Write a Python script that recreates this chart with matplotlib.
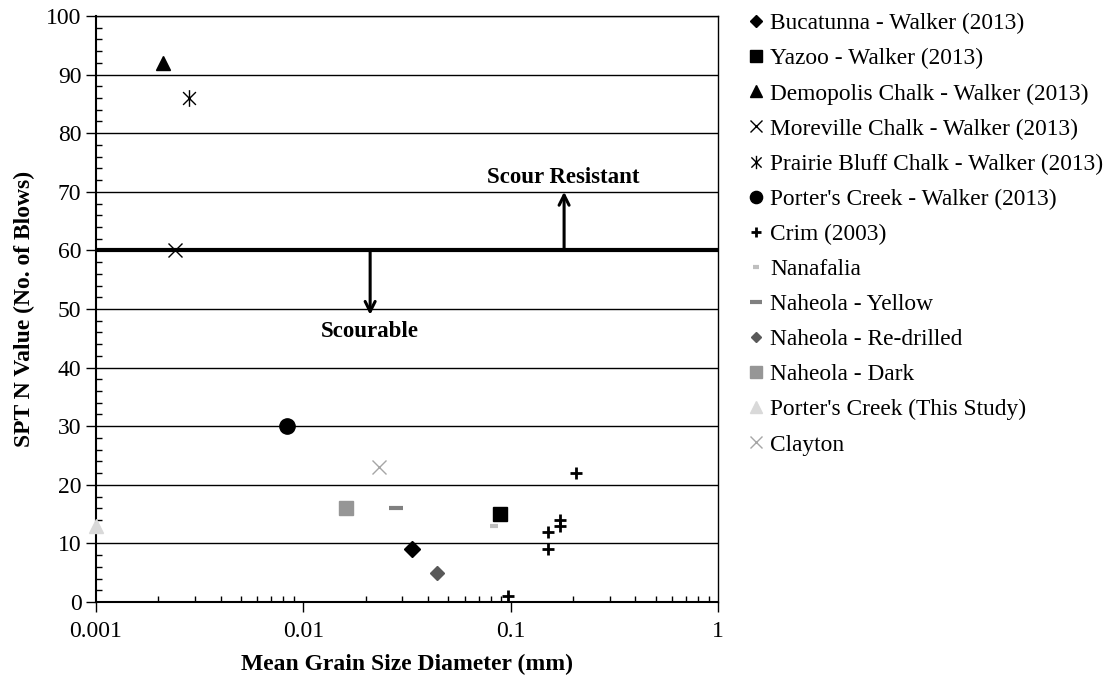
import matplotlib
matplotlib.use("Agg")
import matplotlib.pyplot as plt
from matplotlib.path import Path
from matplotlib.ticker import LogLocator, FixedLocator, NullFormatter, MultipleLocator

plt.rcParams['font.family'] = ['Liberation Serif', 'DejaVu Serif']

# ---- data ----
bucatunna_x = [0.0334]; bucatunna_y = [9]
yazoo_x = [0.0885]; yazoo_y = [15]
demopolis_x = [0.0021]; demopolis_y = [92]
moreville_x = [0.0024]; moreville_y = [60]
prairie_x = [0.0028]; prairie_y = [86]
porters_walker_x = [0.0083]; porters_walker_y = [30]
crim_x = [0.097, 0.151, 0.151, 0.173, 0.173, 0.206]
crim_y = [1, 12, 9, 13, 14, 22]
nanafalia_x = [0.0834]; nanafalia_y = [13]
naheola_yellow_x = [0.028]; naheola_yellow_y = [16]
naheola_redrilled_x = [0.0443]; naheola_redrilled_y = [5]
naheola_dark_x = [0.0161]; naheola_dark_y = [16]
porters_study_x = [0.001]; porters_study_y = [13]
clayton_x = [0.0232]; clayton_y = [23]
threshold = 60

labels = ["Bucatunna - Walker (2013)", "Yazoo - Walker (2013)",
          "Demopolis Chalk - Walker (2013)", "Moreville Chalk - Walker (2013)",
          "Prairie Bluff Chalk - Walker (2013)", "Porter's Creek - Walker (2013)",
          "Crim (2003)", "Nanafalia", "Naheola - Yellow", "Naheola - Re-drilled",
          "Naheola - Dark", "Porter's Creek (This Study)", "Clayton"]

star = Path([(-1, -1), (1, 1), (-1, 1), (1, -1), (0, -1.3), (0, 1.3)],
            [Path.MOVETO, Path.LINETO, Path.MOVETO, Path.LINETO, Path.MOVETO, Path.LINETO])

fig = plt.figure(figsize=(11.06, 6.77), dpi=100)
ax = fig.add_axes([96/1106, 75/677, 622/1106, 586/677])

ax.axhline(threshold, color='black', lw=3, zorder=2)

series = [
    (bucatunna_x, bucatunna_y, dict(marker='D', color='black', ms=8, ls='none')),
    (yazoo_x, yazoo_y, dict(marker='s', color='black', ms=10, ls='none')),
    (demopolis_x, demopolis_y, dict(marker='^', color='black', ms=10, ls='none')),
    (moreville_x, moreville_y, dict(marker='x', color='black', ms=10, mew=1, ls='none')),
    (prairie_x, prairie_y, dict(marker=star, color='black', mfc='none', ms=12, mew=1, ls='none')),
    (porters_walker_x, porters_walker_y, dict(marker='o', color='black', ms=11, ls='none')),
    (crim_x, crim_y, dict(marker='+', color='black', ms=9, mew=2, ls='none')),
    (nanafalia_x, nanafalia_y, dict(marker='_', color='#bfbfbf', ms=6, mew=3, ls='none')),
    (naheola_yellow_x, naheola_yellow_y, dict(marker='_', color='#808080', ms=10, mew=3, ls='none')),
    (naheola_redrilled_x, naheola_redrilled_y, dict(marker='D', color='#595959', ms=7, ls='none')),
    (naheola_dark_x, naheola_dark_y, dict(marker='s', color='#969696', ms=10, ls='none')),
    (porters_study_x, porters_study_y, dict(marker='^', color='#d9d9d9', ms=10, ls='none')),
    (clayton_x, clayton_y, dict(marker='x', color='#a6a6a6', ms=10, mew=1, ls='none')),
]
handles = []
for (xs, ys, kw), lab in zip(series, labels):
    h, = ax.plot(xs, ys, label=lab, zorder=3, clip_on=False, **kw)
    handles.append(h)

ax.set_xscale('log')
ax.set_xlim(0.001, 1)
ax.set_ylim(0, 100)
ax.yaxis.set_major_locator(MultipleLocator(10))
ax.yaxis.set_minor_locator(MultipleLocator(2))
ax.xaxis.set_major_locator(FixedLocator([0.001, 0.01, 0.1, 1]))
ax.xaxis.set_major_formatter(matplotlib.ticker.FuncFormatter(lambda v, p: f"{v:g}"))
ax.xaxis.set_minor_locator(LogLocator(base=10, subs=range(2, 10)))
ax.xaxis.set_minor_formatter(NullFormatter())
ax.grid(axis='y', which='major', color='black', lw=1, zorder=1)
ax.set_axisbelow(True)
ax.tick_params(which='major', direction='out', length=7, width=1, labelsize=17, color='black')
ax.tick_params(which='minor', direction='in', length=4, width=1)
ax.tick_params(axis='x', which='major', pad=7)
for s in ax.spines.values():
    s.set_color('black'); s.set_linewidth(1)
ax.spines['left'].set_linewidth(1.5)
ax.spines['bottom'].set_linewidth(1.5)

ax.set_xlabel("Mean Grain Size Diameter (mm)", fontsize=17, fontweight='bold', labelpad=8)
ax.set_ylabel("SPT N Value (No. of Blows)", fontsize=17, fontweight='bold', labelpad=8)

ax.annotate("", xy=(0.021, 49), xytext=(0.021, threshold),
            arrowprops=dict(arrowstyle='->', lw=2.2, color='black', mutation_scale=18, shrinkA=0, shrinkB=0))
ax.annotate("", xy=(0.181, 70), xytext=(0.181, threshold),
            arrowprops=dict(arrowstyle='->', lw=2.2, color='black', mutation_scale=18, shrinkA=0, shrinkB=0))
ax.text(0.021, 46.2, "Scourable", fontsize=16.5, fontweight='bold', ha='center', va='center')
ax.text(0.18, 72.4, "Scour Resistant", fontsize=16.5, fontweight='bold', ha='center', va='center')

fig.legend(handles=handles, labels=labels, loc='upper left', bbox_to_anchor=(747/1106, 1 - 13/677),
           frameon=False, fontsize=16.8, markerscale=0.8, handlelength=0.8, handletextpad=0.2,
           labelspacing=0.59, borderaxespad=0, borderpad=0)

fig.savefig("out.png", dpi=100)
